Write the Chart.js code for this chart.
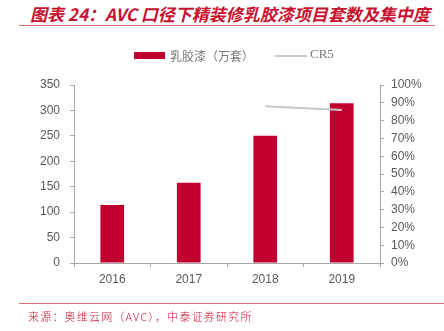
<!DOCTYPE html>
<html>
<head>
<meta charset="utf-8">
<script src="https://cdn.jsdelivr.net/npm/chart.js@4"></script>
<style>
  html, body { margin: 0; padding: 0; background: #fff; }
  #wrap { position: relative; width: 444px; height: 331px; overflow: hidden; }
  #title {
    position: absolute; left: 30px; top: 3px; white-space: nowrap;
    font-family: "Noto Sans CJK SC", sans-serif; font-size: 17px;
    font-weight: bold; font-style: italic; color: #C8102E; line-height: 22px;
  }
  #topRule { position: absolute; left: 19px; top: 25px; width: 416px; height: 1px; background: #E07070; }
  #bottomRule { position: absolute; left: 19px; top: 303px; width: 425px; height: 1px; background: #E07070; }
  #source {
    position: absolute; left: 28px; top: 308px; white-space: nowrap;
    font-family: "Noto Sans CJK SC", sans-serif; font-size: 11px; font-weight: 300;
    letter-spacing: 1.2px; color: #C8102E; line-height: 16px;
  }
  .legend { position: absolute; top: 47px; height: 17px; font-size: 12px; color: #777; white-space: nowrap; }
  .swatch { position: absolute; }
  canvas { position: absolute; left: 0; top: 0; }
</style>
</head>
<body>
<div id="wrap">
  <div id="title">图表 24：AVC 口径下精装修乳胶漆项目套数及集中度</div>
  <div id="topRule"></div>
  <canvas id="chart" width="444" height="331"></canvas>
  <div class="swatch" style="left:134px;top:52px;width:31px;height:7px;background:#C0002F"></div>
  <div class="legend" style="left:170px;font-family:'Noto Sans CJK SC',serif;">乳胶漆（万套）</div>
  <div class="swatch" style="left:275px;top:55px;width:32px;height:2px;background:#C8C8C8"></div>
  <div class="legend" style="left:310px;font-family:'Liberation Serif',serif;font-size:13px;top:46px;">CR5</div>
  <div id="bottomRule"></div>
  <div id="source">来源：奥维云网（AVC），中泰证券研究所</div>
</div>
<script>
// categories and series
const years = ['2016', '2017', '2018', '2019'];
const paintProjects = [114, 158, 250, 314];   // 万套
const cr5 = [null, null, 88, 86];             // %

const axisGray = '#A6A6A6';
const labelGray = '#595959';

new Chart(document.getElementById('chart'), {
    type: 'bar',
    data: {
        labels: years,
        datasets: [{
            type: 'line',
            label: 'CR5',
            data: cr5,
            yAxisID: 'y1',
            borderColor: '#C8C8C8',
            borderWidth: 2,
            pointRadius: 0,
            fill: false,
            tension: 0,
            order: 0
        }, {
            label: '乳胶漆（万套）',
            data: paintProjects,
            yAxisID: 'y',
            backgroundColor: '#C0002F',
            borderWidth: 0,
            categoryPercentage: 1,
            barPercentage: 0.31,
            order: 1
        }]
    },
    options: {
        responsive: false,
        animation: false,
        layout: { padding: { top: 85, left: 0, right: 0, bottom: 0 } },
        plugins: {
            legend: { display: false },
            tooltip: { enabled: false }
        },
        scales: {
            x: {
                grid: {
                    offset: true,
                    drawOnChartArea: false,
                    tickLength: 4,
                    color: axisGray
                },
                border: { color: axisGray, width: 1 },
                ticks: {
                    color: labelGray,
                    font: { family: 'Liberation Sans, Arial', size: 12 },
                    padding: 5
                },
                afterFit: function(scale) { scale.height = 68; }
            },
            y: {
                position: 'left',
                min: 0,
                max: 350,
                ticks: {
                    stepSize: 50,
                    color: labelGray,
                    font: { family: 'Liberation Sans, Arial', size: 12 },
                    padding: 10
                },
                grid: { drawOnChartArea: false, tickLength: 4, color: axisGray },
                border: { color: axisGray, width: 1 },
                afterFit: function(scale) { scale.width = 74; }
            },
            y1: {
                position: 'right',
                min: 0,
                max: 100,
                ticks: {
                    stepSize: 10,
                    color: labelGray,
                    font: { family: 'Liberation Sans, Arial', size: 12 },
                    padding: 7,
                    callback: function(value) { return value + '%'; }
                },
                grid: { drawOnChartArea: false, tickLength: 4, color: axisGray },
                border: { color: axisGray, width: 1 },
                afterFit: function(scale) { scale.width = 64; }
            }
        }
    }
});
</script>
</body>
</html>
